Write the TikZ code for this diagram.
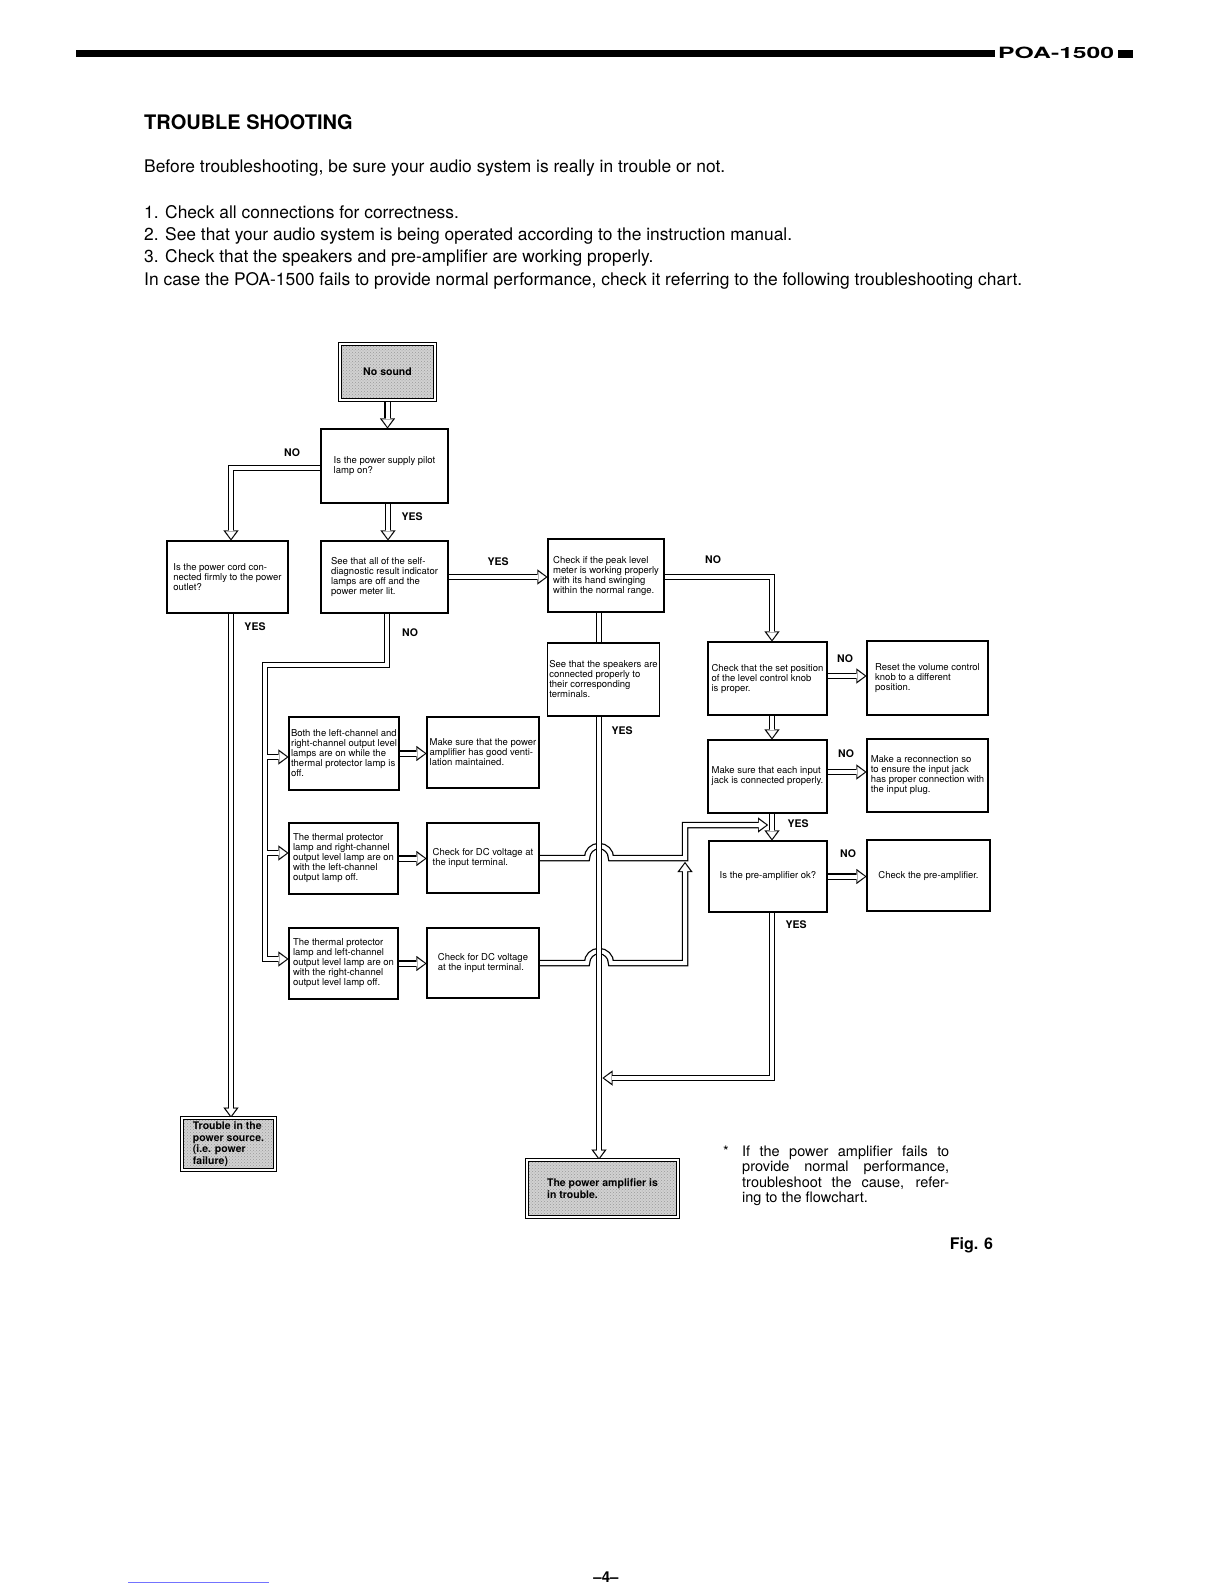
\documentclass[tikz,border=0pt]{standalone}
\usepackage{fontspec}
\setmainfont{TeX Gyre Heros}
\usepackage{graphicx}
\usetikzlibrary{arrows.meta,patterns}
\pgfdeclarelayer{bgpage}
\pgfdeclarelayer{pipes}
\pgfsetlayers{bgpage,pipes,main}
\newcommand\bxf{\fontsize{9.5}{10}\selectfont}
\newcommand\lbf{\fontsize{10.5}{11.7}\selectfont\bfseries}
\newcommand\bodyf{\fontsize{17.4}{20}\selectfont}
\newcommand\fnf{\fontsize{14.5}{15}\selectfont}
\begin{document}
\begin{tikzpicture}[x=1pt,y=-1pt,
  box/.style={draw, line width=1.1pt, align=left, font=\bxf, inner sep=2pt},
  sbox/.style={draw, line width=1pt, double, double distance=2.2pt, preaction={fill=black!18}, pattern=crosshatch dots, pattern color=black!40, align=left, font=\lbf, inner sep=2pt},
  lab/.style={font=\lbf, inner sep=0pt},
  txt/.style={anchor=base west, inner sep=0pt, font=\bodyf},
  po/.style={draw=black, line width=6.5pt, shorten >=0pt, -},
  pi/.style={draw=white, line width=4pt},
  pipe/.style={pi, preaction={po}},
  pao/.style={po, -{Triangle[length=10pt,width=15pt,line width=0.1pt]}},
  pai/.style={pi, shorten >=1.8pt, -{Triangle[length=7.3pt,width=10.5pt,line width=0.1pt]}},
  parrow/.style={pai, preaction={pao}}]
\begin{pgfonlayer}{bgpage}
\fill[white] (0,0) rectangle (1224,1584);
\end{pgfonlayer}
\useasboundingbox (0,0) rectangle (1224,1584);

% header
\fill (76,50.5) rectangle (995,57.5);
\node[anchor=south west, inner sep=0pt] (hdr) at (998,59) {\resizebox{116pt}{11.5pt}{\bfseries POA-1500}};
\fill (1118,50) rectangle (1133,58);

% page text
\node[txt, font=\fontsize{20}{24}\selectfont\bfseries] (title) at (144,129) {TROUBLE SHOOTING};
\node[txt] (t0) at (144,172) {Before troubleshooting, be sure your audio system is really in trouble or not.};
\node[txt] (n1) at (144,218) {1.};
\node[txt] (t1) at (165,218) {Check all connections for correctness.};
\node[txt] (n2) at (144,240) {2.};
\node[txt] (t2) at (165,240) {See that your audio system is being operated according to the instruction manual.};
\node[txt] (n3) at (144,262.5) {3.};
\node[txt] (t3) at (165,262.5) {Check that the speakers and pre-amplifier are working properly.};
\node[txt] (t4) at (144,285) {In case the POA-1500 fails to provide normal performance, check it referring to the following troubleshooting chart.};

% boxes
\node[sbox, minimum width=94.8pt, minimum height=55.8pt, align=center] (nosound) at (387.5,372) {No sound};
\node[box, minimum width=127pt, minimum height=74pt] (q1) at (384.5,466) {Is the power supply pilot\\lamp on?};
\node[box, minimum width=121pt, minimum height=72pt] (cord) at (227.5,577) {Is the power cord con-\\nected firmly to the power\\outlet?};
\node[box, minimum width=127pt, minimum height=72pt] (diag) at (384.5,577) {See that all of the self-\\diagnostic result indicator\\lamps are off and the\\power meter lit.};
\node[box, minimum width=116pt, minimum height=73pt] (peak) at (606,575.5) {Check if the peak level\\meter is working properly\\with its hand swinging\\within the normal range.};
\node[box, minimum width=111pt, minimum height=73pt] (speak) at (603.5,679.5) {See that the speakers are\\connected properly to\\their corresponding\\terminals.};
\node[box, minimum width=119pt, minimum height=73pt] (level) at (767.5,678.5) {Check that the set position\\of the level control knob\\is proper.};
\node[box, minimum width=121pt, minimum height=74pt] (reset) at (927.5,678) {Reset the volume control\\knob to a different\\position.};
\node[box, minimum width=119pt, minimum height=73pt] (jack) at (767.5,776.5) {Make sure that each input\\jack is connected properly.};
\node[box, minimum width=121pt, minimum height=73pt] (recon) at (927.5,775.5) {Make a reconnection so\\to ensure the input jack\\has proper connection with\\the input plug.};
\node[box, minimum width=118pt, minimum height=71pt] (preamp) at (768,876.5) {Is the pre-amplifier ok?};
\node[box, minimum width=123pt, minimum height=71pt] (chkpre) at (928.5,875.5) {Check the pre-amplifier.};
\node[box, minimum width=110pt, minimum height=73pt] (both) at (344,753.5) {Both the left-channel and\\right-channel output level\\lamps are on while the\\thermal protector lamp is\\off.};
\node[box, minimum width=112pt, minimum height=71pt] (vent) at (483,752.5) {Make sure that the power\\amplifier has good venti-\\lation maintained.};
\node[box, minimum width=109pt, minimum height=71pt] (th1) at (343.5,858.5) {The thermal protector\\lamp and right-channel\\output level lamp are on\\with the left-channel\\output lamp off.};
\node[box, minimum width=112pt, minimum height=70pt] (dc1) at (483,858) {Check for DC voltage at\\the input terminal.};
\node[box, minimum width=109pt, minimum height=71pt] (th2) at (343.5,963.5) {The thermal protector\\lamp and left-channel\\output level lamp are on\\with the right-channel\\output level lamp off.};
\node[box, minimum width=112pt, minimum height=70pt] (dc2) at (483,963) {Check for DC voltage\\at the input terminal.};
\node[sbox, minimum width=92.8pt, minimum height=51.8pt] (trouble) at (228.5,1144) {Trouble in the\\power source.\\(i.e. power\\failure)};
\node[sbox, minimum width=150.8pt, minimum height=56.8pt] (ampbad) at (602.5,1188.5) {The power amplifier is\\in trouble.};

% labels
\node[lab] (lq1no) at (292,453) {NO};
\node[lab] (lq1yes) at (412,517) {YES};
\node[lab] (lcordyes) at (255,627) {YES};
\node[lab] (ldiagno) at (410,633) {NO};
\node[lab] (ldiagyes) at (498,562) {YES};
\node[lab] (lpeakno) at (713,560) {NO};
\node[lab] (llevelno) at (845,659) {NO};
\node[lab] (ljackno) at (846,754) {NO};
\node[lab] (ljackyes) at (798,824) {YES};
\node[lab] (lpreno) at (848,854) {NO};
\node[lab] (lpreyes) at (796,925) {YES};
\node[lab] (lspyes) at (622,731) {YES};

% connectors
\begin{pgfonlayer}{pipes}
\draw[parrow] (nosound.south) -- (q1.north -| nosound.south);
\draw[parrow] (q1.west |- 0,468) -- (231,468) -- (cord.north -| 231,0);
\draw[parrow] (q1.south -| 388,0) -- (diag.north -| 388,0);
\draw[parrow] (cord.south -| 231,0) -- (trouble.north -| 231,0);
\draw[parrow] (diag.east) -- (diag.east -| peak.west);
\draw[parrow] (peak.east |- 0,577) -- (772,577) -- (level.north -| 772,0);
\draw[pipe] (peak.south -| 599,0) -- (speak.north -| 599,0);
\draw[parrow] (level.east |- 0,676) -- (reset.west |- 0,676);
\draw[parrow] (level.south -| 772,0) -- (jack.north -| 772,0);
\draw[parrow] (jack.east |- 0,772) -- (recon.west |- 0,772);
\draw[parrow] (jack.south -| 772,0) -- (preamp.north -| 772,0);
\draw[parrow] (preamp.east) -- (preamp.east -| chkpre.west);
\draw[parrow] (preamp.south -| 772,0) -- (772,1078) -- (602.5,1078);
% bus from self-diagnostic box
\draw[pao] (diag.south -| 387,0) -- (387,665) -- (265,665) -- (265,959) -- (th2.west |- 0,959);
\draw[pao] (265,757) -- (both.west |- 0,757);
\draw[pao] (265,853) -- (th1.west |- 0,853);
\draw[pai] (diag.south -| 387,0) -- (387,665) -- (265,665) -- (265,959) -- (th2.west |- 0,959);
\draw[pai] (265,757) -- (both.west |- 0,757);
\draw[pai] (265,853) -- (th1.west |- 0,853);
\draw[parrow] (both.east) -- (both.east -| vent.west);
\draw[parrow] (th1.east) -- (th1.east -| dc1.west);
\draw[parrow] (th2.east) -- (th2.east -| dc2.west);
\draw[parrow] (dc1.east) -- (587,858) arc[start angle=180, end angle=0, radius=12pt] -- (685,858) -- (685,825) -- (768,825);
\draw[parrow] (dc2.east) -- (587,963) arc[start angle=180, end angle=0, radius=12pt] -- (685,963) -- (685,862);
\draw[parrow] (speak.south -| 599,0) -- (ampbad.north -| 599,0);
\end{pgfonlayer}

% footnote
\node[anchor=base west, inner sep=0pt, font=\fnf] (star) at (723,1156) {*};
\node[anchor=base west, inner sep=0pt, font=\fnf] (f1) at (742,1156) {\makebox[207pt][s]{If the power amplifier fails to}};
\node[anchor=base west, inner sep=0pt, font=\fnf] (f2) at (742,1171.5) {\makebox[207pt][s]{provide normal performance,}};
\node[anchor=base west, inner sep=0pt, font=\fnf] (f3) at (742,1187) {\makebox[207pt][s]{troubleshoot the cause, refer-}};
\node[anchor=base west, inner sep=0pt, font=\fnf] (f4) at (742,1202.5) {ing to the flowchart.};

\node[font=\fontsize{16}{18}\selectfont\bfseries, inner sep=0pt] (fig) at (971.5,1245) {Fig. 6};
\node[font=\fontsize{15}{17}\selectfont\bfseries, inner sep=0pt] (pgno) at (606,1577) {--4--};
\draw[blue!55, line width=0.8pt] (128,1582) -- (269,1582);
\end{tikzpicture}
\end{document}
